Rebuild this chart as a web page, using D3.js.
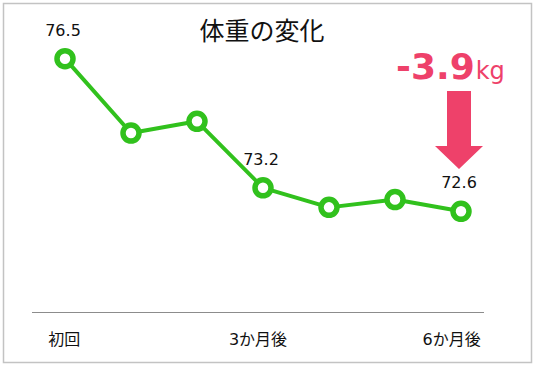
<!DOCTYPE html>
<html><head><meta charset="utf-8">
<script src="https://cdn.jsdelivr.net/npm/d3@7"></script>
<style>
html,body{margin:0;padding:0;background:#fff;}
svg{display:block;font-family:"DejaVu Sans","Noto Sans CJK JP",sans-serif;}
</style></head>
<body>
<script>
const categories = ["初回","1か月後","2か月後","3か月後","4か月後","5か月後","6か月後"];
const tickLabels = ["初回","","","3か月後","","","6か月後"];
const weights = [76.5, 74.6, 74.9, 73.2, 72.7, 72.9, 72.6];
const showValue = [true, false, false, true, false, false, true];
const title = "体重の変化";
const unit = "kg";

const W = 534, H = 369;
const green = "#31c11d", pink = "#ee416a";

const svg = d3.select("body").append("svg").attr("width", W).attr("height", H);

svg.append("rect").attr("x", 3.5).attr("y", 3.5).attr("width", 528).attr("height", 359)
  .attr("fill", "#fff").attr("stroke", "#c3c3c3").attr("stroke-width", 1.5);

const y = d3.scaleLinear().domain([70, 78]).range([313, 0]);
const xAxisScale = d3.scaleBand().domain(categories).range([32, 484]);
const xPt = d3.scalePoint().domain(categories).range([65, 461]);

// title
svg.append("text").attr("x", 262).attr("y", 40).attr("text-anchor", "middle")
  .attr("font-size", 25).attr("fill", "#111").text(title);

// axis
const axis = d3.axisBottom(xAxisScale).tickSize(0).tickPadding(0)
  .tickFormat((d, i) => tickLabels[i]);
const gx = svg.append("g").attr("transform", "translate(0,312.5)").call(axis);
gx.select(".domain").attr("stroke", "#8c8c8c").attr("stroke-width", 1).attr("d", "M32,0H484");
gx.selectAll(".tick text").attr("font-size", 16).attr("fill", "#111")
  .attr("font-family", "\"DejaVu Sans\",\"Noto Sans CJK JP\",sans-serif")
  .attr("dy", 0).attr("y", 32);

// line
const line = d3.line().x((d, i) => xPt(categories[i])).y(d => y(d));
svg.append("path").datum(weights).attr("d", line).attr("fill", "none")
  .attr("stroke", green).attr("stroke-width", 4).attr("stroke-linejoin", "round");

svg.selectAll("circle.pt").data(weights).join("circle").attr("class", "pt")
  .attr("cx", (d, i) => xPt(categories[i])).attr("cy", d => y(d))
  .attr("r", 8).attr("fill", "#fff").attr("stroke", green).attr("stroke-width", 5.5);

svg.selectAll("text.val").data(weights.map((v, i) => ({v, i})).filter(d => showValue[d.i]))
  .join("text").attr("class", "val")
  .attr("x", d => xPt(categories[d.i]) - 2).attr("y", d => y(d.v) - 23)
  .attr("text-anchor", "middle").attr("font-size", 16).attr("fill", "#111")
  .text(d => d3.format(".1f")(d.v));

// change annotation
const diff = weights[weights.length - 1] - weights[0];
const lastX = xPt(categories[categories.length - 1]) - 2;
const t = svg.append("text").attr("x", 396).attr("y", 78.5).attr("fill", pink);
t.append("tspan").attr("font-size", 36).attr("font-weight", "bold").text(d3.format(".1f")(diff).replace("−", "-"));
t.append("tspan").attr("font-size", 24).attr("dx", 1).text(unit);

const arrow = d3.path();
arrow.moveTo(lastX - 12, 91);
arrow.lineTo(lastX + 12, 91);
arrow.lineTo(lastX + 12, 146);
arrow.lineTo(lastX + 24, 146);
arrow.lineTo(lastX, 169);
arrow.lineTo(lastX - 24, 146);
arrow.lineTo(lastX - 12, 146);
arrow.closePath();
svg.append("path").attr("d", arrow.toString()).attr("fill", pink);
</script>
</body></html>
